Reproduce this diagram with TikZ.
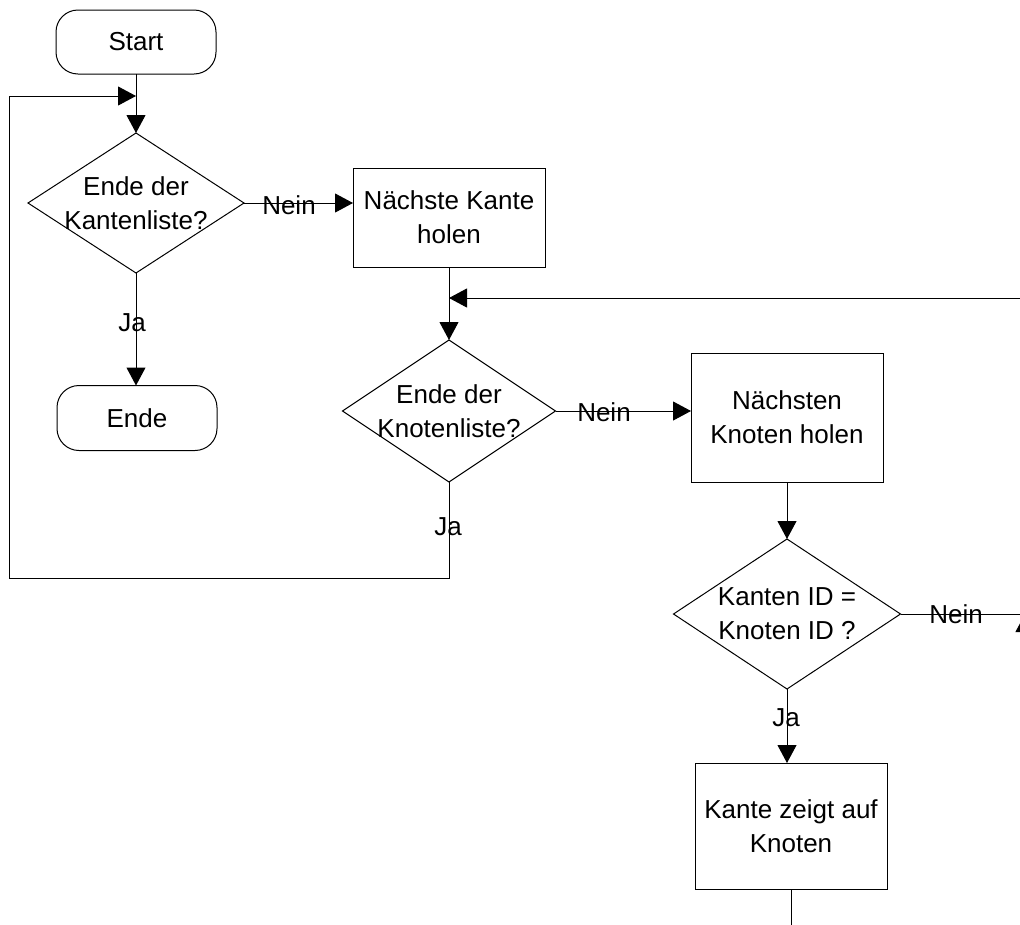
\documentclass[tikz,border=0pt]{standalone}
\usepackage{fontspec}
\setmainfont{Liberation Sans}
\usetikzlibrary{arrows.meta,shapes.geometric}

\begin{document}
\begin{tikzpicture}[x=1pt,y=-1pt,
  line width=1pt,
  txt/.style={font=\fontsize{26}{34}\selectfont, align=center, inner sep=0pt},
  terminal/.style={draw, rounded corners=22pt, minimum width=160pt, minimum height=64pt,
                   inner sep=0pt, outer sep=0pt, txt},
  process/.style={draw, minimum width=192pt, inner sep=0pt, outer sep=0pt, txt},
  decision/.style={draw, diamond, inner sep=0pt, outer sep=0pt},
  dtext/.style={label={[txt]center:#1}},
  flow/.style={-{Triangle[length=18pt,width=19pt]}},
  tag/.style={txt}
]
\useasboundingbox (0,0) rectangle (1020,924);
\clip (0,0) rectangle (1020,924);

% terminals
\node[terminal] (start) at (136,42) {Start};
\node[terminal, minimum height=65pt] (ende) at (137,418) {Ende};

% decisions
\node[decision, minimum width=216pt, minimum height=140pt,
      dtext={Ende der\\Kantenliste?}] (d1) at (136,203) {};
\node[decision, minimum width=213pt, minimum height=142pt,
      dtext={Ende der\\Knotenliste?}] (d2) at (449,411) {};
\node[decision, minimum width=227pt, minimum height=150pt,
      dtext={Kanten ID =\\Knoten ID ?}] (d3) at (787,614) {};

% processes
\node[process, minimum height=99pt]  (b1) at (449,217.5) {Nächste Kante\\holen};
\node[process, minimum height=129pt] (b2) at (787,417.5) {Nächsten\\Knoten holen};
\node[process, minimum height=126pt] (b3) at (791,826)   {Kante zeigt auf\\Knoten};

% junctions of the loops
\coordinate (top)   at (136,96);
\coordinate (mid)   at (449,298);
\coordinate (right) at (1025,614);

% main flow
\draw[flow] (start.south) -- (d1.north);
\draw[flow] (d1.east) -- (d1.east -| b1.west);
\draw[flow] (d1.south) -- (ende.north -| d1.south);
\draw[flow] (b1.south) -- (d2.north);
\draw[flow] (d2.east) -- (d2.east -| b2.west);
\draw[flow] (b2.south -| d3.north) -- (d3.north);
\draw[flow] (d3.south) -- (d3.south |- b3.north);

% loops back
\draw[flow] (d2.south) |- (9,578) |- (top);
\draw (d3.east) -- (right);
\draw[flow] (b3.south) -- ++(0,70) -| (right);
\draw[flow] (right) |- (mid);

% branch labels
\node[tag] (n1) at (289,205) {Nein};
\node[tag] (n2) at (604,412) {Nein};
\node[tag] (n3) at (956,614) {Nein};
\node[tag] (j1) at (132,323) {Ja};
\node[tag] (j2) at (448,527) {Ja};
\node[tag] (j3) at (786,718) {Ja};
\end{tikzpicture}
\end{document}
